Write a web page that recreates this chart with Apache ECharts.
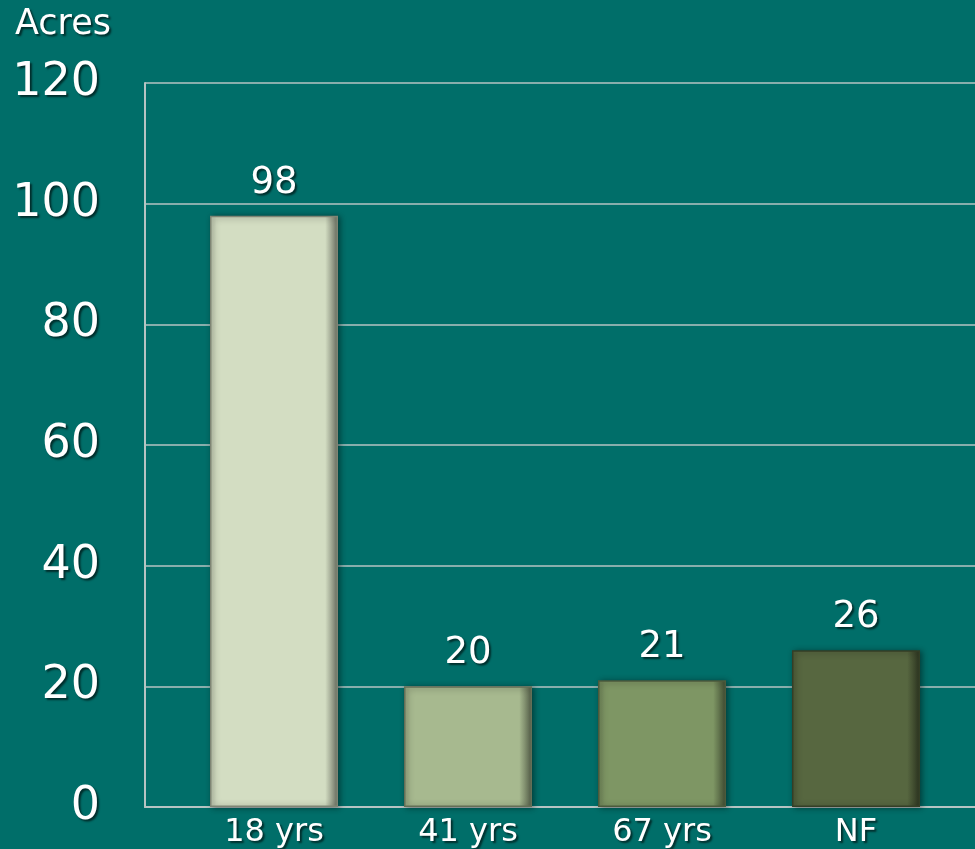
<!DOCTYPE html>
<html>
<head>
<meta charset="utf-8">
<script src="https://cdn.jsdelivr.net/npm/echarts@6/dist/echarts.min.js"></script>
<style>html,body{margin:0;padding:0;background:#006e69;}#c{width:975px;height:849px;}</style>
</head>
<body>
<div id="c"></div>
<script>
const categories = ['18 yrs', '41 yrs', '67 yrs', 'NF'];
const acres = [98, 20, 21, 26];
const barColors = ['#d3ddc2', '#a7b98f', '#7e9664', '#576740'];
const yTicks = [0, 20, 40, 60, 80, 100, 120];

function darken(hex, f) {
  const n = parseInt(hex.slice(1), 16);
  const r = Math.round(((n >> 16) & 255) * (1 - f));
  const g = Math.round(((n >> 8) & 255) * (1 - f));
  const b = Math.round((n & 255) * (1 - f));
  return 'rgb(' + r + ',' + g + ',' + b + ')';
}

const chart = echarts.init(document.getElementById('c'));
const font = 'DejaVu Sans';
const shadowText = { textShadowColor: 'rgba(0,0,0,0.6)', textShadowBlur: 2, textShadowOffsetX: 2, textShadowOffsetY: 2 };

chart.setOption({
  backgroundColor: '#006e69',
  animation: false,
  graphic: [{
    type: 'text', left: 15, top: 7,
    style: Object.assign({ text: 'Acres', fill: '#ffffff', fontSize: 35, fontFamily: font }, shadowText)
  }],
  grid: [
    { left: 145, right: 0, top: 83, bottom: 42 },
    { left: 177, width: 776, top: 83, bottom: 42 }
  ],
  xAxis: [
    { gridIndex: 0, type: 'value', min: 0, max: 1, axisLine: { show: true, lineStyle: { color: '#b6c4c3', width: 2 } },
      axisTick: { show: false }, axisLabel: { show: false }, splitLine: { show: false } },
    { gridIndex: 1, type: 'category', data: categories, axisLine: { show: false }, axisTick: { show: false },
      axisLabel: Object.assign({ color: '#ffffff', fontSize: 32, fontFamily: font, margin: 10 }, shadowText) }
  ],
  yAxis: [
    { gridIndex: 0, type: 'value', min: yTicks[0], max: yTicks[yTicks.length - 1], interval: 20,
      axisLine: { show: true, lineStyle: { color: '#b6c4c3', width: 2 } }, axisTick: { show: false },
      splitLine: { show: true, lineStyle: { color: '#b6c4c3', width: 1.5 } },
      axisLabel: Object.assign({ color: '#ffffff', fontSize: 46, fontFamily: font, margin: 45 }, shadowText) },
    { gridIndex: 1, type: 'value', min: yTicks[0], max: yTicks[yTicks.length - 1], interval: 20, show: false }
  ],
  series: [{
    type: 'bar', xAxisIndex: 1, yAxisIndex: 1, barWidth: 128,
    data: acres.map((v, i) => ({
      value: v,
      itemStyle: {
        color: {
          type: 'linear', x: 0, y: 0, x2: 1, y2: 0,
          colorStops: [
            { offset: 0, color: darken(barColors[i], 0.12) },
            { offset: 0.05, color: barColors[i] },
            { offset: 0.9, color: barColors[i] },
            { offset: 1, color: darken(barColors[i], 0.5) }
          ]
        },
        borderColor: darken(barColors[i], 0.4),
        borderWidth: 1.5,
        shadowColor: 'rgba(0,0,0,0.45)', shadowBlur: 6, shadowOffsetX: 2, shadowOffsetY: 1
      }
    })),
    label: Object.assign({ show: true, position: 'top', distance: 14, color: '#ffffff', fontSize: 37, fontFamily: font }, shadowText)
  }]
});
</script>
</body>
</html>
